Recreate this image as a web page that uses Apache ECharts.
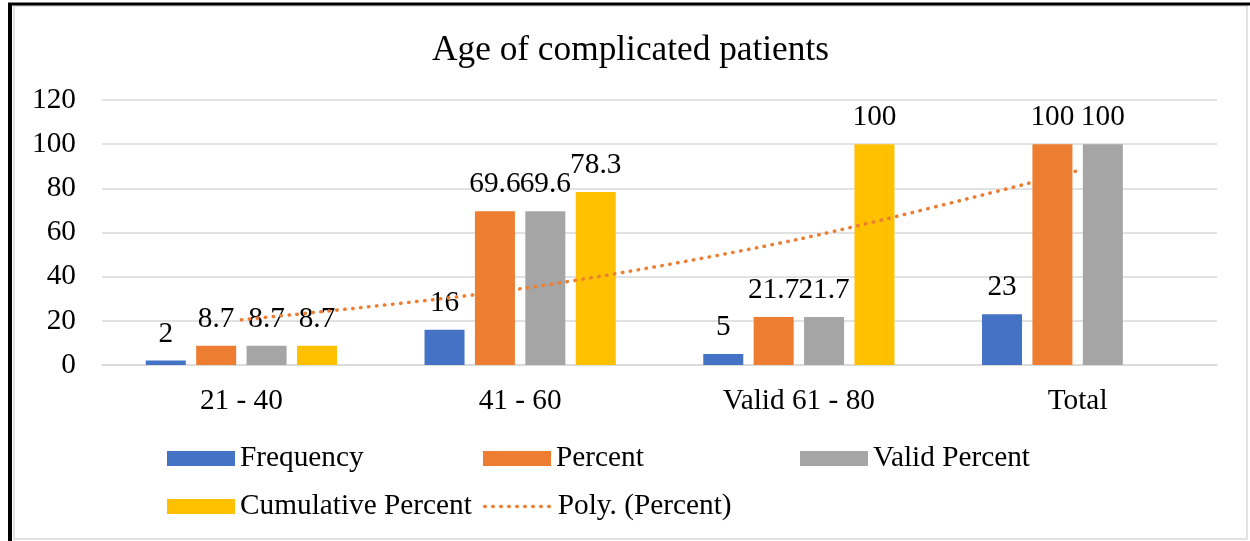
<!DOCTYPE html>
<html>
<head>
<meta charset="utf-8">
<script src="https://cdn.jsdelivr.net/npm/echarts@6/dist/echarts.min.js"></script>
<style>
  html, body { margin: 0; padding: 0; background: #fff; }
  #chart { width: 1250px; height: 541px; }
</style>
</head>
<body>
<div id="chart"></div>
<script>
// data
var categories = ["21 - 40", "41 - 60", "Valid 61 - 80", "Total"];
var frequency = [2, 16, 5, 23];
var percent = [8.7, 69.6, 21.7, 100];
var validPercent = [8.7, 69.6, 21.7, 100];
var cumulativePercent = [8.7, 78.3, 100, null];
// polynomial trendline of Percent, as read at each category
var polyPercent = [20.5, 34.5, 57, 88];
var yTicks = { min: 0, max: 120, interval: 20 };

var font = "Liberation Serif";
var fs = 29.3;
var dotted = { color: "#ED7D31", width: 3.5, type: [0.5, 7.5], cap: "round" };
var myChart = echarts.init(document.getElementById("chart"));

var barLabel = {
  show: true,
  position: "top",
  distance: 12,
  color: "#000",
  fontFamily: font,
  fontSize: fs
};

function bar(name, data, color) {
  return {
    name: name,
    type: "bar",
    data: data,
    barWidth: 40,
    barGap: "26%",
    itemStyle: { color: color },
    label: barLabel
  };
}

// one legend per entry so they sit in fixed columns
function legendAt(name, left, top, icon) {
  var l = {
    data: [name],
    left: left,
    top: top,
    padding: 0,
    itemWidth: 68,
    itemHeight: 15,
    textStyle: { color: "#000", fontFamily: font, fontSize: fs }
  };
  if (icon) {
    l.icon = icon;
  } else {
    l.itemStyle = { opacity: 0 }; // hide the symbol, keep the dotted line
    l.lineStyle = dotted;
  }
  return l;
}

var option = {
  backgroundColor: "#fff",
  animation: false,
  title: {
    text: "Age of complicated patients",
    left: 427,
    top: 28,
    textStyle: { color: "#000", fontFamily: font, fontSize: 35.3, fontWeight: "normal" }
  },
  legend: [
    legendAt("Frequency", 167, 444, "rect"),
    legendAt("Percent", 483, 444, "rect"),
    legendAt("Valid Percent", 800, 444, "rect"),
    legendAt("Cumulative Percent", 167, 492, "rect"),
    legendAt("Poly. (Percent)", 483, 492)
  ],
  grid: { left: 102, right: 33, top: 100, bottom: 176 },
  xAxis: {
    type: "category",
    data: categories,
    axisTick: { show: false },
    axisLine: { lineStyle: { color: "#D9D9D9", width: 1.5 } },
    axisLabel: { color: "#000", fontFamily: font, fontSize: fs, margin: 22 }
  },
  yAxis: {
    type: "value",
    min: yTicks.min,
    max: yTicks.max,
    interval: yTicks.interval,
    axisLine: { show: false },
    axisTick: { show: false },
    splitLine: { lineStyle: { color: "#D9D9D9", width: 1.5 } },
    axisLabel: { color: "#000", fontFamily: font, fontSize: fs, margin: 26, lineHeight: 26 }
  },
  graphic: [
    { type: "rect", shape: { x: 14, y: 6, width: 1233, height: 533 },
      style: { fill: null, stroke: "#D9D9D9", lineWidth: 1.5 } },
    { type: "line", shape: { x1: 8, y1: 4, x2: 1250, y2: 4 },
      style: { stroke: "#000", lineWidth: 3 } },
    { type: "line", shape: { x1: 10, y1: 3, x2: 10, y2: 541 },
      style: { stroke: "#000", lineWidth: 4 } }
  ],
  series: [
    bar("Frequency", frequency, "#4472C4"),
    bar("Percent", percent, "#ED7D31"),
    bar("Valid Percent", validPercent, "#A5A5A5"),
    bar("Cumulative Percent", cumulativePercent, "#FFC000"),
    {
      name: "Poly. (Percent)",
      type: "line",
      data: polyPercent,
      smooth: 0.3,
      symbol: "none",
      z: 5,
      itemStyle: { color: "#ED7D31" },
      lineStyle: dotted
    }
  ]
};
myChart.setOption(option);
</script>
</body>
</html>
